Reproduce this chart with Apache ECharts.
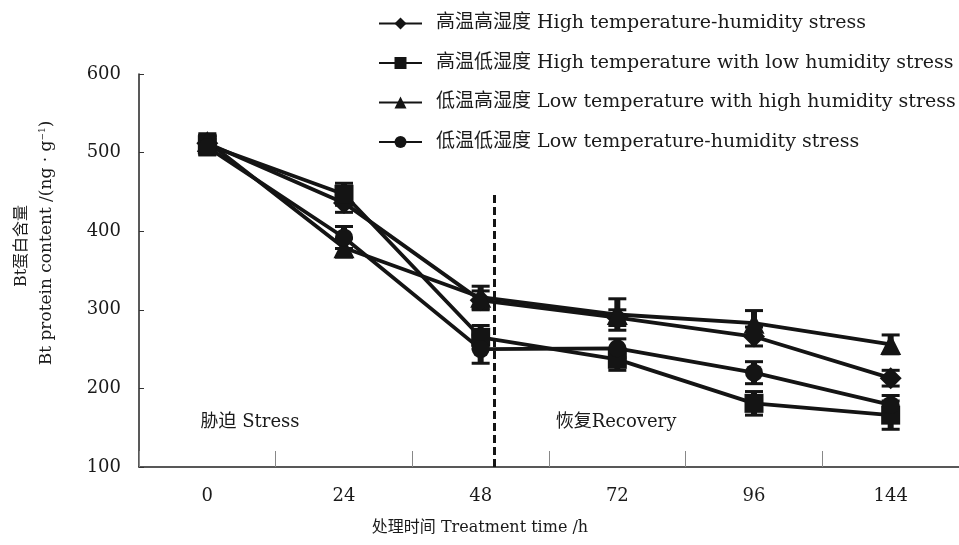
<!DOCTYPE html>
<html>
<head>
<meta charset="utf-8">
<script src="https://cdn.jsdelivr.net/npm/echarts@6/dist/echarts.min.js"></script>
<style>
  html, body { margin: 0; padding: 0; background: #fff; }
  #chart { width: 959px; height: 545px; }
</style>
</head>
<body>
<div id="chart"></div>
<script>
// Sampling times (h)
const times = ['0', '24', '48', '72', '96', '144'];

// Series names
const names = [
  '高温高湿度 High temperature-humidity stress',
  '高温低湿度 High temperature with low humidity stress',
  '低温高湿度 Low temperature with high humidity stress',
  '低温低湿度 Low temperature-humidity stress'
];

// Bt protein content (ng·g-1)
const highTempHighHum = [512, 436, 312, 290, 266, 213];
const highTempLowHum  = [510, 447, 265, 237, 181, 166];
const lowTempHighHum  = [514, 379, 316, 294, 283, 256];
const lowTempLowHum   = [507, 392, 250, 251, 220, 179];

// Standard errors
const errHighHigh = [10, 12, 12, 10, 12, 10];
const errHighLow  = [12, 14, 15, 14, 15, 18];
const errLowHigh  = [10, 12, 14, 20, 16, 12];
const errLowLow   = [10, 14, 18, 12, 14, 12];

// Y axis range
const yMin = 100, yMax = 600, yStep = 100;

// Boundary between stress and recovery phases (position on index scale) and its upper end
const phaseSplit = 2.1;
const phaseSplitTop = 446;

const FONT = "'DejaVu Serif', 'Noto Sans CJK SC', serif";
const INK = '#141414';

const chart = echarts.init(document.getElementById('chart'), null, { renderer: 'canvas' });

const valueSets = [highTempHighHum, highTempLowHum, lowTempHighHum, lowTempLowHum];
const errSets = [errHighHigh, errHighLow, errLowHigh, errLowLow];
const symbols = ['diamond', 'rect', 'triangle', 'circle'];
const symbolSizes = [22, 19, 21, 18];

function errorBarItem(params, api) {
  const idx = api.value(0);
  const top = api.coord([idx, api.value(2)]);
  const bot = api.coord([idx, api.value(1)]);
  const w = 9;
  const st = { stroke: INK, lineWidth: 3 };
  return {
    type: 'group',
    children: [
      { type: 'line', shape: { x1: top[0], y1: top[1], x2: bot[0], y2: bot[1] }, style: { stroke: INK, lineWidth: 6 } },
      { type: 'line', shape: { x1: top[0] - w, y1: top[1], x2: top[0] + w, y2: top[1] }, style: st },
      { type: 'line', shape: { x1: bot[0] - w, y1: bot[1], x2: bot[0] + w, y2: bot[1] }, style: st }
    ]
  };
}

const series = [];
valueSets.forEach((vals, i) => {
  series.push({
    type: 'custom',
    xAxisIndex: 0,
    yAxisIndex: 0,
    renderItem: errorBarItem,
    silent: true,
    z: 1,
    data: vals.map((v, k) => [k, v - errSets[i][k], v + errSets[i][k]])
  });
});
valueSets.forEach((vals, i) => {
  series.push({
    name: names[i],
    type: 'line',
    xAxisIndex: 0,
    yAxisIndex: 0,
    data: vals,
    symbol: symbols[i],
    symbolSize: symbolSizes[i],
    showAllSymbol: true,
    z: 3,
    lineStyle: { color: INK, width: 3.8 },
    itemStyle: { color: INK, borderColor: INK, borderWidth: 0 },
    animation: false
  });
});
// Dashed divider between the stress and recovery phases
series.push({
  type: 'line',
  xAxisIndex: 1,
  yAxisIndex: 0,
  data: [],
  silent: true,
  markLine: {
    symbol: ['none', 'none'],
    silent: true,
    label: { show: false },
    lineStyle: { color: INK, width: 3, type: [8, 4] },
    data: [[
      { coord: [phaseSplit, yMin] },
      { coord: [phaseSplit, phaseSplitTop] }
    ]]
  }
});

const option = {
  animation: false,
  backgroundColor: '#ffffff',
  textStyle: { fontFamily: FONT },
  grid: { left: 139, top: 74, width: 826, height: 393, containLabel: false },
  legend: {
    orient: 'vertical',
    left: 373,
    top: 9,
    itemWidth: 43,
    itemHeight: 15,
    itemGap: 20.5,
    data: names,
    lineStyle: { width: 2 },
    textStyle: {
      fontFamily: FONT,
      fontSize: 19,
      lineHeight: 18,
      color: '#1a1a1a',
      padding: [0, 0, 0, 9]
    }
  },
  xAxis: [
    {
      type: 'category',
      data: times,
      boundaryGap: true,
      axisLine: { show: true, onZero: false, lineStyle: { color: '#222', width: 1.5 } },
      axisTick: { show: true, inside: true, length: 16, lineStyle: { color: '#888', width: 1 } },
      axisLabel: { color: '#1a1a1a', fontSize: 18, fontFamily: FONT, margin: 20 },
      splitLine: { show: false }
    },
    {
      type: 'value',
      min: -0.5,
      max: 5.5,
      show: false
    }
  ],
  yAxis: [
    {
      type: 'value',
      min: yMin,
      max: yMax,
      interval: yStep,
      axisLine: { show: true, onZero: false, lineStyle: { color: '#222', width: 1.5 } },
      axisTick: { show: true, inside: true, length: 5, lineStyle: { color: '#333', width: 1 } },
      axisLabel: { color: '#1a1a1a', fontSize: 18, fontFamily: FONT, margin: 18 },
      splitLine: { show: false }
    }
  ],
  graphic: [
    {
      type: 'text',
      x: 22, y: 246,
      rotation: Math.PI / 2,
      style: {
        text: 'Bt蛋白含量',
        font: "16px " + FONT,
        fill: '#1a1a1a',
        align: 'center',
        verticalAlign: 'middle'
      }
    },
    {
      type: 'text',
      x: 47, y: 243,
      rotation: Math.PI / 2,
      style: {
        text: 'Bt protein content /(ng · g{sup|−1})',
        fontFamily: FONT,
        fontSize: 17,
        fill: '#1a1a1a',
        align: 'center',
        verticalAlign: 'middle',
        rich: {
          sup: { fontFamily: FONT, fontSize: 9, verticalAlign: 'top', fill: '#1a1a1a' }
        }
      }
    },
    {
      type: 'text',
      x: 480, y: 528,
      style: {
        text: '处理时间 Treatment time /h',
        font: "16px " + FONT,
        fill: '#1a1a1a',
        align: 'center',
        verticalAlign: 'middle'
      }
    },
    {
      type: 'text',
      x: 250, y: 422,
      style: {
        text: '胁迫 Stress',
        font: "18px " + FONT,
        fill: '#1a1a1a',
        align: 'center',
        verticalAlign: 'middle'
      }
    },
    {
      type: 'text',
      x: 616, y: 422,
      style: {
        text: '恢复Recovery',
        font: "18px " + FONT,
        fill: '#1a1a1a',
        align: 'center',
        verticalAlign: 'middle'
      }
    }
  ],
  series: series
};

chart.setOption(option);
</script>
</body>
</html>
